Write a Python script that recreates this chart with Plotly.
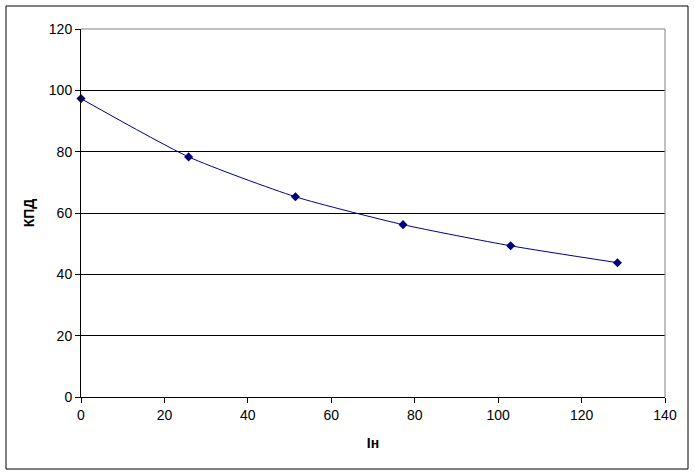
import plotly.graph_objects as go

current = [0, 25.8, 51.4, 77.2, 103.0, 128.6]
efficiency = [97.3, 78.3, 65.3, 56.2, 49.3, 43.8]
x_ticks = [0, 20, 40, 60, 80, 100, 120, 140]
y_ticks = [0, 20, 40, 60, 80, 100, 120]

fig = go.Figure()
fig.add_trace(go.Scatter(
    x=current, y=efficiency, mode="lines+markers",
    line=dict(color="#000080", width=1, shape="spline", smoothing=0.6),
    marker=dict(symbol="diamond", size=7, color="#000080"),
    showlegend=False, cliponaxis=False,
))

font = dict(family="Liberation Sans, Arial, sans-serif", size=14, color="black")
fig.update_layout(
    width=695, height=476,
    margin=dict(l=81, r=30, t=29, b=79),
    paper_bgcolor="white", plot_bgcolor="white",
    font=font,
    xaxis=dict(range=[0, 140], tickvals=x_ticks, showgrid=False, zeroline=False,
               showline=True, linecolor="black", linewidth=1,
               ticks="outside", ticklen=5, tickcolor="black",
               title=dict(text="<b>Iн</b>", font=font, standoff=16)),
    yaxis=dict(range=[0, 120], tickvals=y_ticks, showgrid=True, gridcolor="black",
               gridwidth=1, zeroline=False,
               showline=True, linecolor="black", linewidth=1,
               ticks="outside", ticklen=5, tickcolor="black",
               title=dict(text="<b>КПД</b>", font=font, standoff=10)),
    shapes=[
        dict(type="line", xref="paper", yref="paper", x0=0, x1=1, y0=1, y1=1,
             line=dict(color="#808080", width=1)),
        dict(type="line", xref="paper", yref="paper", x0=1, x1=1, y0=0, y1=1,
             line=dict(color="#808080", width=1)),
        dict(type="rect", xref="paper", yref="paper", x0=-0.1284, x1=1.0394,
             y0=-0.1957, y1=1.0625, line=dict(color="black", width=1)),
    ],
)
fig.write_html("out.html", config={"displayModeBar": False},
               post_script="document.body.style.margin='0';document.body.style.overflow='hidden';")
